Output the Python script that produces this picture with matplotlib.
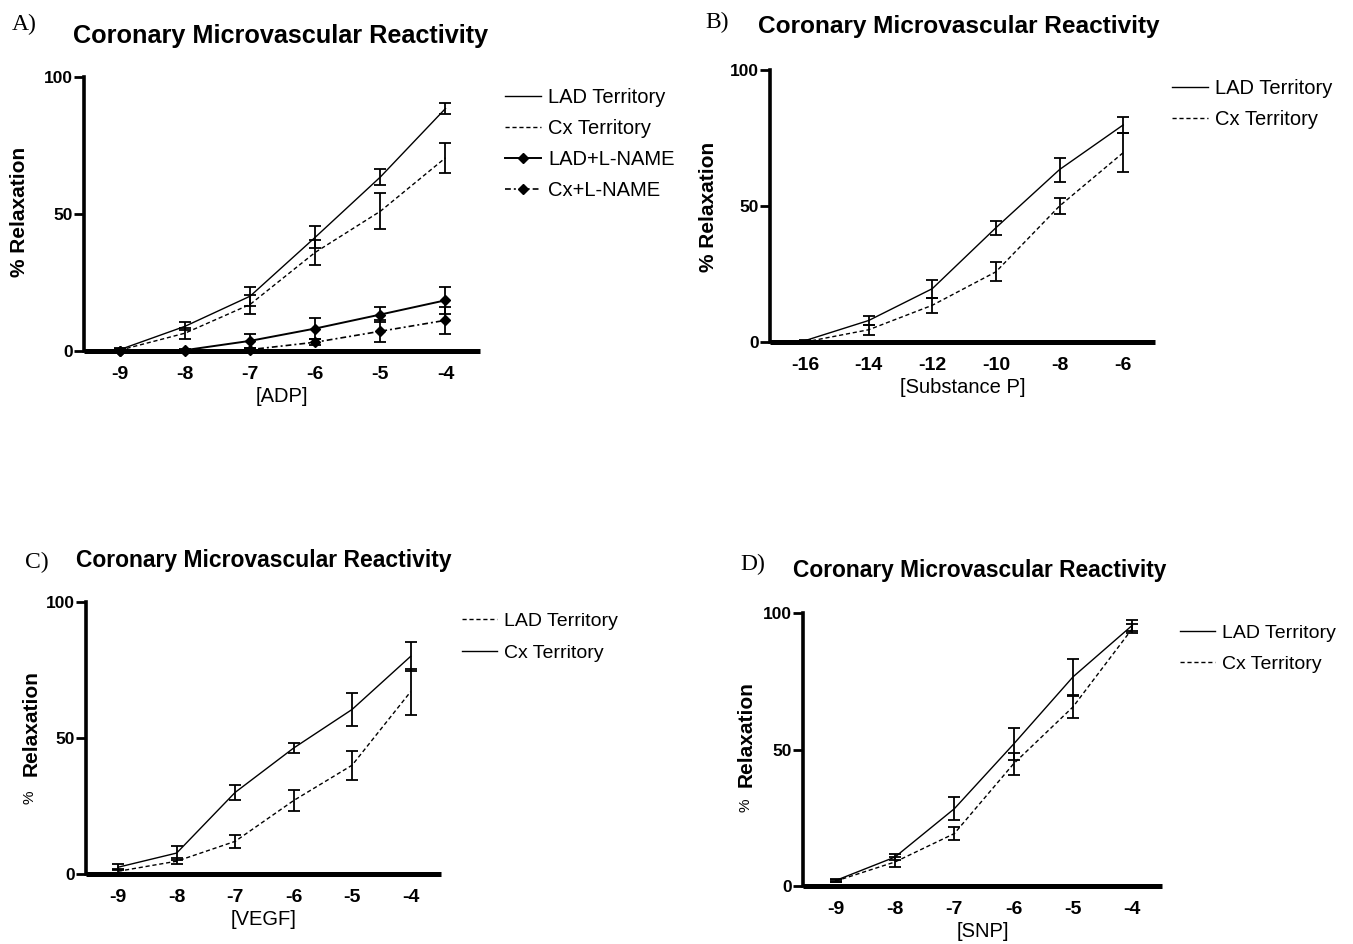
import matplotlib
matplotlib.use("Agg")
import matplotlib.pyplot as plt

plt.rcParams['font.family'] = ['Liberation Sans', 'DejaVu Sans']
plt.rcParams['axes.unicode_minus'] = False

# ---------------- data ----------------
title_text = "Coronary Microvascular Reactivity"
ylabel_text = "% Relaxation"

# Panel A: ADP
a_x = [-9, -8, -7, -6, -5, -4]
a_xticklabels = ["-9", "-8", "-7", "-6", "-5", "-4"]
a_lad = [0.5, 9.0, 20.0, 41.5, 63.5, 88.5]
a_lad_err = [0.5, 1.5, 3.5, 4.0, 3.0, 2.0]
a_cx = [0.3, 6.5, 17.0, 36.0, 51.0, 70.5]
a_cx_err = [0.3, 2.0, 3.5, 4.5, 6.5, 5.5]
a_lad_lname = [0.0, 0.3, 3.7, 8.2, 13.3, 18.5]
a_lad_lname_err = [0.0, 0.3, 2.5, 4.0, 2.7, 5.0]
a_cx_lname = [0.0, 0.0, 0.5, 3.2, 7.2, 11.2]
a_cx_lname_err = [0.0, 0.0, 0.5, 1.0, 4.0, 5.0]

# Panel B: Substance P
b_x = [-16, -14, -12, -10, -8, -6]
b_xticklabels = ["-16", "-14", "-12", "-10", "-8", "-6"]
b_lad = [0.5, 7.9, 19.6, 42.0, 63.4, 79.8]
b_lad_err = [0.3, 1.5, 3.3, 2.5, 4.4, 3.0]
b_cx = [0.0, 4.5, 13.5, 25.8, 50.0, 69.6]
b_cx_err = [0.3, 1.8, 2.8, 3.5, 3.0, 7.2]

# Panel C: VEGF
c_x = [-9, -8, -7, -6, -5, -4]
c_xticklabels = ["-9", "-8", "-7", "-6", "-5", "-4"]
c_cx_solid = [2.5, 7.7, 30.0, 46.3, 60.5, 80.0]
c_cx_solid_err = [1.0, 2.7, 2.8, 1.8, 6.0, 5.3]
c_lad_dashed = [1.0, 4.7, 12.0, 27.0, 40.0, 67.0]
c_lad_dashed_err = [0.8, 1.0, 2.3, 3.8, 5.4, 8.5]

# Panel D: SNP
d_x = [-9, -8, -7, -6, -5, -4]
d_xticklabels = ["-9", "-8", "-7", "-6", "-5", "-4"]
d_lad = [2.0, 10.6, 28.3, 52.0, 76.6, 95.5]
d_lad_err = [0.5, 1.2, 4.2, 5.8, 6.5, 2.0]
d_cx = [1.8, 8.8, 19.2, 44.8, 65.6, 94.3]
d_cx_err = [0.4, 2.0, 2.3, 4.0, 4.0, 1.5]

yticks = [0, 50, 100]
yticklabels = ["0", "50", "100"]

# ---------------- layout helpers ----------------
W, H = 1353, 944
fig = plt.figure(figsize=(W / 100, H / 100), dpi=100)
fig.patch.set_facecolor("white")


def fx(x):
    return x / W


def fy(y):
    return 1 - y / H


def make_axes(left, right, top, bottom):
    return fig.add_axes([fx(left), fy(bottom), (right - left) / W, (bottom - top) / H])


DASH = (0, (3, 2))
DASHDOT = (0, (3.5, 1.8, 1.2, 1.8))


def style_axes(ax, xlim, xt, xtl, xlabel):
    ax.set_xlim(*xlim)
    ax.set_ylim(0, 100)
    ax.set_xticks(xt)
    ax.set_xticklabels(xtl, fontsize=14, fontweight="bold")
    ax.set_yticks(yticks)
    ax.set_yticklabels(yticklabels, fontsize=12.5, fontweight="bold")
    ax.tick_params(axis="x", length=0, pad=11)
    ax.tick_params(axis="y", length=7, width=2, pad=1, direction="out")
    for s in ("top", "right"):
        ax.spines[s].set_visible(False)
    ax.spines["left"].set_linewidth(2.6)
    ax.spines["bottom"].set_linewidth(3.6)
    ax.spines["bottom"].set_capstyle("butt")
    ax.set_xlabel(xlabel, fontsize=14.5, labelpad=3)
    ax.set_facecolor("white")


def series(ax, x, y, e, ls, marker=None, label=None, lw=1.0):
    ax.errorbar(x, y, yerr=e, color="black", lw=lw, ls=ls, marker=marker,
                markersize=5.5, capsize=4.2, elinewidth=1.3, capthick=1.3,
                clip_on=False, zorder=3, label=label)


def legend(ax, x, y, fontsize, spacing=0.35):
    handles, labels = ax.get_legend_handles_labels()
    handles = [h[0] if hasattr(h, "lines") else h for h in handles]
    leg = ax.legend(handles, labels, loc="upper left", bbox_to_anchor=(fx(x), fy(y)),
                    bbox_transform=fig.transFigure, frameon=False, fontsize=fontsize,
                    handlelength=1.8, handletextpad=0.35, labelspacing=spacing,
                    borderpad=0, borderaxespad=0)
    return leg


# ---------------- Panel A ----------------
axA = make_axes(84, 480, 77, 351)
series(axA, a_x, a_lad, a_lad_err, "-", label="LAD Territory")
series(axA, a_x, a_cx, a_cx_err, DASH, label="Cx Territory")
series(axA, a_x, a_lad_lname, a_lad_lname_err, "-", marker="D", label="LAD+L-NAME", lw=1.4)
series(axA, a_x, a_cx_lname, a_cx_lname_err, DASHDOT, marker="D", label="Cx+L-NAME", lw=1.2)
style_axes(axA, (-9.55, -3.47), a_x, a_xticklabels, "[ADP]")
legend(axA, 505, 88, 14.5, 0.6)
fig.text(fx(73), fy(36), title_text, fontsize=18.2, fontweight="bold", ha="left", va="center")
fig.text(fx(12), fy(24), "A)", fontsize=17, family="Liberation Serif", ha="left", va="center")
fig.text(fx(20), fy(212), ylabel_text, fontsize=15, fontweight="bold", rotation=90,
         ha="center", va="center")

# ---------------- Panel B ----------------
axB = make_axes(770, 1155, 70, 342)
series(axB, b_x, b_lad, b_lad_err, "-", label="LAD Territory")
series(axB, b_x, b_cx, b_cx_err, DASH, label="Cx Territory")
style_axes(axB, (-17.1, -5.0), b_x, b_xticklabels, "[Substance P]")
legend(axB, 1172, 79, 14.5, 0.62)
fig.text(fx(758), fy(27), title_text, fontsize=17.6, fontweight="bold", ha="left", va="center")
fig.text(fx(705), fy(22), "B)", fontsize=17, family="Liberation Serif", ha="left", va="center")
fig.text(fx(709), fy(207), ylabel_text, fontsize=15, fontweight="bold", rotation=90,
         ha="center", va="center")

# ---------------- Panel C ----------------
axC = make_axes(86, 441, 602, 874)
series(axC, c_x, c_lad_dashed, c_lad_dashed_err, DASH, label="LAD Territory")
series(axC, c_x, c_cx_solid, c_cx_solid_err, "-", label="Cx Territory")
style_axes(axC, (-9.55, -3.48), c_x, c_xticklabels, "[VEGF]")
legend(axC, 462, 612, 14, 0.76)
fig.text(fx(76), fy(560), title_text, fontsize=16.5, fontweight="bold", ha="left", va="center")
fig.text(fx(25), fy(562), "C)", fontsize=17, family="Liberation Serif", ha="left", va="center")
fig.text(fx(31), fy(723), "Relaxation", fontsize=15, fontweight="bold", rotation=90,
         ha="center", va="center")
fig.text(fx(30), fy(797), "%", fontsize=11, rotation=90, ha="center", va="center")

# ---------------- Panel D ----------------
axD = make_axes(803, 1162, 613, 886)
series(axD, d_x, d_lad, d_lad_err, "-", label="LAD Territory")
series(axD, d_x, d_cx, d_cx_err, DASH, label="Cx Territory")
style_axes(axD, (-9.55, -3.5), d_x, d_xticklabels, "[SNP]")
legend(axD, 1180, 624, 14, 0.72)
fig.text(fx(793), fy(571), title_text, fontsize=16.4, fontweight="bold", ha="left", va="center")
fig.text(fx(740), fy(564), "D)", fontsize=17, family="Liberation Serif", ha="left", va="center")
fig.text(fx(746), fy(734), "Relaxation", fontsize=15, fontweight="bold", rotation=90,
         ha="center", va="center")
fig.text(fx(746), fy(805), "%", fontsize=11, rotation=90, ha="center", va="center")

fig.savefig("out.png", dpi=100, facecolor="white")
